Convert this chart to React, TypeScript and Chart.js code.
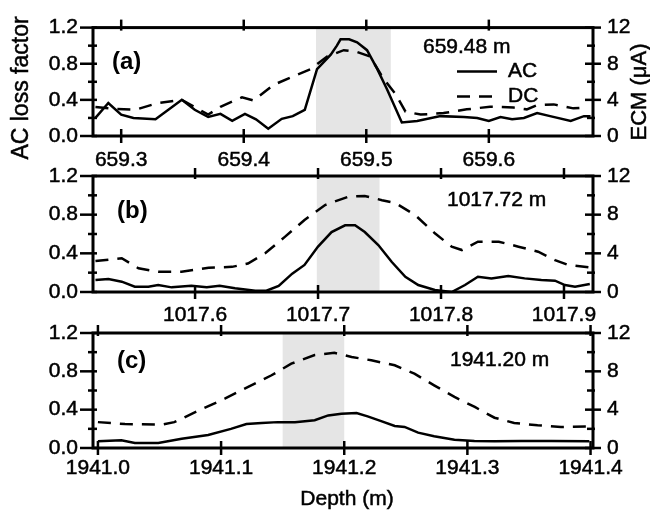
import React, { useEffect, useRef } from 'react';
import { Chart, registerables } from 'chart.js';

Chart.register(...registerables);

// ---------------- data ----------------
// Panel (a) 659.48 m
const aAcDepth = [659.279, 659.2895, 659.3, 659.31, 659.328, 659.3495, 659.36, 659.371, 659.381, 659.3906, 659.401, 659.41, 659.42, 659.431, 659.44, 659.4498, 659.4598, 659.471, 659.476, 659.479, 659.486, 659.4925, 659.5006, 659.509, 659.517, 659.529, 659.5415, 659.5606, 659.5796, 659.5905, 659.6, 659.6095, 659.619, 659.6286, 659.6394, 659.65, 659.6668, 659.6776, 659.683];
const aAcLoss = [0.2, 0.365, 0.237, 0.2, 0.185, 0.4, 0.29, 0.21, 0.245, 0.167, 0.245, 0.185, 0.08, 0.19, 0.22, 0.29, 0.74, 0.9, 1.0, 1.07, 1.07, 1.037, 0.95, 0.74, 0.515, 0.15, 0.167, 0.22, 0.21, 0.2, 0.167, 0.21, 0.185, 0.2, 0.254, 0.22, 0.167, 0.22, 0.22];
const aDcDepth = [659.279, 659.295, 659.3114, 659.33, 659.3495, 659.371, 659.381, 659.3986, 659.408, 659.4245, 659.442, 659.4545, 659.468, 659.4816, 659.4925, 659.503, 659.514, 659.524, 659.532, 659.5443, 659.563, 659.582, 659.601, 659.62, 659.631, 659.639, 659.653, 659.669, 659.6785];
const aDcEcm = [3.2, 3.0, 2.9, 3.65, 4.0, 2.37, 3.24, 4.28, 3.93, 5.67, 6.7, 7.4, 8.8, 9.5, 9.3, 8.8, 6.37, 4.63, 2.7, 2.37, 2.54, 2.95, 3.24, 3.16, 2.95, 3.4, 3.5, 3.06, 3.16];
const aXTicks = [659.3, 659.4, 659.5, 659.6];
const aRange = [659.277, 659.685];
const aShade = [659.459, 659.52];

// Panel (b) 1017.72 m
const bAcDepth = [1017.519, 1017.5295, 1017.5404, 1017.551, 1017.562, 1017.57, 1017.581, 1017.597, 1017.6095, 1017.62, 1017.6325, 1017.649, 1017.658, 1017.668, 1017.679, 1017.689, 1017.7, 1017.711, 1017.722, 1017.7301, 1017.738, 1017.749, 1017.76, 1017.771, 1017.7815, 1017.795, 1017.8087, 1017.8195, 1017.83, 1017.841, 1017.8547, 1017.868, 1017.8816, 1017.8927, 1017.9008, 1017.909, 1017.921];
const bAcLoss = [0.124, 0.134, 0.107, 0.055, 0.055, 0.072, 0.048, 0.065, 0.048, 0.065, 0.038, 0.013, 0.013, 0.062, 0.19, 0.28, 0.47, 0.62, 0.69, 0.69, 0.62, 0.486, 0.31, 0.158, 0.072, 0.02, 0.0, 0.072, 0.158, 0.141, 0.165, 0.141, 0.124, 0.117, 0.072, 0.055, 0.083];
const bDcDepth = [1017.519, 1017.5404, 1017.554, 1017.57, 1017.589, 1017.611, 1017.63, 1017.643, 1017.657, 1017.673, 1017.689, 1017.7057, 1017.7246, 1017.738, 1017.752, 1017.763, 1017.779, 1017.795, 1017.8087, 1017.817, 1017.83, 1017.847, 1017.863, 1017.879, 1017.8927, 1017.9035, 1017.92];
const bDcEcm = [3.2, 3.5, 2.45, 2.1, 2.1, 2.5, 2.6, 2.95, 4.0, 5.7, 7.45, 9.0, 9.86, 9.93, 9.5, 9.2, 7.96, 6.07, 4.69, 4.34, 5.2, 5.2, 4.69, 4.17, 3.3, 2.8, 2.55];
const bXTicks = [1017.6, 1017.7, 1017.8, 1017.9];
const bRange = [1017.517, 1017.9236];
const bShade = [1017.699, 1017.75];

// Panel (c) 1941.20 m
const cAcDepth = [1941.0, 1941.019, 1941.03, 1941.049, 1941.068, 1941.0895, 1941.108, 1941.1206, 1941.133, 1941.146, 1941.16, 1941.176, 1941.187, 1941.1977, 1941.21, 1941.219, 1941.23, 1941.241, 1941.249, 1941.26, 1941.273, 1941.2895, 1941.3057, 1941.322, 1941.3436, 1941.368, 1941.399];
const cAcLoss = [0.07, 0.08, 0.052, 0.052, 0.097, 0.136, 0.2, 0.25, 0.26, 0.27, 0.27, 0.29, 0.34, 0.358, 0.365, 0.33, 0.28, 0.23, 0.22, 0.16, 0.122, 0.087, 0.073, 0.07, 0.073, 0.073, 0.07];
const cDcDepth = [1941.0, 1941.022, 1941.052, 1941.062, 1941.081, 1941.103, 1941.122, 1941.141, 1941.157, 1941.176, 1941.192, 1941.206, 1941.222, 1941.241, 1941.257, 1941.273, 1941.2895, 1941.306, 1941.322, 1941.338, 1941.357, 1941.376, 1941.398];
const cDcEcm = [2.7, 2.5, 2.45, 2.7, 3.86, 5.15, 6.37, 7.59, 8.8, 9.7, 9.93, 9.5, 9.15, 8.63, 7.76, 6.54, 5.33, 4.28, 3.16, 2.61, 2.37, 2.19, 2.26];
const cXTicks = [1941.0, 1941.1, 1941.2, 1941.3, 1941.4];
const cRange = [1940.996, 1941.402];
const cShade = [1941.15, 1941.2];

// shared axes
const lossRange = [0, 1.2];
const lossMajor = [0, 0.4, 0.8, 1.2];
const lossMinor = [0.2, 0.6, 1.0];
const ecmRange = [0, 12];
const ecmMajor = [0, 4, 8, 12];
const ecmMinor = [2, 6, 10];

const seriesNames = ['AC', 'DC'];
const yTitle = 'AC loss factor';
const y2Title = 'ECM (\u03BCA)';
const xTitle = 'Depth (m)';

// ---------------- styling / layout ----------------
const W = 650;
const H = 510;
const FONT = '"Liberation Sans", Arial, Helvetica, sans-serif';
const SHADE = '#e5e5e5';
const INK = '#000';
const DASH = [13, 9];
const X_AXIS_H = 40;
const LEFT_W = 93;
const RIGHT_W = 57;
const TEXT_STROKE = 0.5;

type Panel = {
  key: string;
  acX: number[]; acY: number[]; dcX: number[]; dcY: number[];
  xTicks: number[]; range: number[]; shade: number[];
  top: number; bottom: number; xPad: number;
  tag: string; tagPos: [number, number];
  note: string; notePos: [number, number];
  legend: boolean; yTitles: boolean; xTitle: boolean;
};

const PANELS: Panel[] = [
  { key: 'a', acX: aAcDepth, acY: aAcLoss, dcX: aDcDepth, dcY: aDcEcm, xTicks: aXTicks, range: aRange, shade: aShade,
    top: 21, bottom: 136, xPad: 12, tag: '(a)', tagPos: [19, 35], note: '659.48 m', notePos: [330, 20], legend: true, yTitles: true, xTitle: false },
  { key: 'b', acX: bAcDepth, acY: bAcLoss, dcX: bDcDepth, dcY: bDcEcm, xTicks: bXTicks, range: bRange, shade: bShade,
    top: 176, bottom: 292, xPad: 11, tag: '(b)', tagPos: [24, 35], note: '1017.72 m', notePos: [354, 24], legend: false, yTitles: false, xTitle: false },
  { key: 'c', acX: cAcDepth, acY: cAcLoss, dcX: cDcDepth, dcY: cDcEcm, xTicks: cXTicks, range: cRange, shade: cShade,
    top: 333, bottom: 448, xPad: 8, tag: '(c)', tagPos: [24, 28], note: '1941.20 m', notePos: [357, 27], legend: false, yTitles: false, xTitle: true },
];

function zip(xs: number[], ys: number[]) {
  return xs.map((x, i) => ({ x, y: ys[i] }));
}

function heavyText(ctx: CanvasRenderingContext2D, s: string, x: number, y: number) {
  ctx.fillText(s, x, y);
  ctx.lineWidth = TEXT_STROKE;
  ctx.strokeStyle = INK;
  ctx.setLineDash([]);
  ctx.strokeText(s, x, y);
}

function decorPlugin(p: Panel) {
  return {
    id: 'decor_' + p.key,
    beforeDatasetsDraw(chart: any) {
      const { ctx, chartArea: ca, scales } = chart;
      const x0 = scales.x.getPixelForValue(p.shade[0]);
      const x1 = scales.x.getPixelForValue(p.shade[1]);
      ctx.save();
      ctx.fillStyle = SHADE;
      ctx.fillRect(x0, ca.top, x1 - x0, ca.bottom - ca.top);
      ctx.restore();
    },
    afterDatasetsDraw(chart: any) {
      const { ctx, chartArea: ca, scales } = chart;
      const line = (a: number, b: number, c: number, d: number) => {
        ctx.beginPath();
        ctx.moveTo(a, b);
        ctx.lineTo(c, d);
        ctx.stroke();
      };
      ctx.save();
      ctx.strokeStyle = INK;
      ctx.lineWidth = 2.5;
      ctx.setLineDash([]);
      for (const v of p.xTicks) {
        const px = scales.x.getPixelForValue(v);
        line(px, ca.top - 8, px, ca.top + 3);
        line(px, ca.bottom - 7, px, ca.bottom + 7);
      }
      for (const v of lossMajor) {
        const py = scales.y.getPixelForValue(v);
        line(ca.left - 13, py, ca.left + 4, py);
      }
      for (const v of lossMinor) {
        const py = scales.y.getPixelForValue(v);
        line(ca.left - 5, py, ca.left + 4, py);
      }
      for (const v of ecmMajor) {
        const py = scales.y1.getPixelForValue(v);
        line(ca.right - 8, py, ca.right + 8, py);
      }
      for (const v of ecmMinor) {
        const py = scales.y1.getPixelForValue(v);
        line(ca.right - 6, py, ca.right + 2, py);
      }
      ctx.lineWidth = 3;
      ctx.strokeRect(ca.left, ca.top, ca.right - ca.left, ca.bottom - ca.top);
      ctx.restore();
    },
    afterDraw(chart: any) {
      const { ctx, chartArea: ca } = chart;
      ctx.save();
      ctx.fillStyle = INK;
      ctx.textBaseline = 'middle';
      ctx.textAlign = 'left';
      ctx.font = 'bold 24px ' + FONT;
      ctx.fillText(p.tag, ca.left + p.tagPos[0], ca.top + p.tagPos[1]);
      ctx.font = '21px ' + FONT;
      heavyText(ctx, p.note, ca.left + p.notePos[0], ca.top + p.notePos[1]);
      if (p.legend) {
        const lx0 = ca.left + 364;
        const lx1 = ca.left + 404;
        const tx = ca.left + 415;
        const y0 = ca.top + 44;
        const y1 = ca.top + 69;
        ctx.strokeStyle = INK;
        ctx.lineWidth = 2.5;
        ctx.setLineDash([]);
        ctx.beginPath(); ctx.moveTo(lx0, y0); ctx.lineTo(lx1, y0); ctx.stroke();
        ctx.setLineDash(DASH);
        ctx.beginPath(); ctx.moveTo(lx0, y1); ctx.lineTo(lx1 + 2, y1); ctx.stroke();
        ctx.setLineDash([]);
        heavyText(ctx, seriesNames[0], tx, y0);
        heavyText(ctx, seriesNames[1], tx, y1);
      }
      ctx.textAlign = 'center';
      if (p.yTitles) {
        ctx.save();
        ctx.font = '23px ' + FONT;
        ctx.translate(22, 88);
        ctx.rotate(-Math.PI / 2);
        heavyText(ctx, yTitle, 0, 0);
        ctx.restore();
        ctx.save();
        ctx.font = '22px ' + FONT;
        ctx.translate(640, 92);
        ctx.rotate(-Math.PI / 2);
        heavyText(ctx, y2Title, 0, 0);
        ctx.restore();
      }
      if (p.xTitle) {
        ctx.font = '21px ' + FONT;
        heavyText(ctx, xTitle, 347, 499);
      }
      ctx.restore();
    },
  };
}

function buildConfig(p: Panel): any {
  const tickFont = { family: FONT, size: 21 };
  const tickStyle = { color: INK, font: tickFont, textStrokeColor: INK, textStrokeWidth: TEXT_STROKE };
  return {
    type: 'line',
    data: {
      datasets: [
        { label: seriesNames[0], data: zip(p.acX, p.acY), yAxisID: 'y', borderColor: INK, borderWidth: 2.5,
          pointRadius: 0, tension: 0, fill: false },
        { label: seriesNames[1], data: zip(p.dcX, p.dcY), yAxisID: 'y1', borderColor: INK, borderWidth: 2.5,
          borderDash: DASH, pointRadius: 0, tension: 0, fill: false },
      ],
    },
    options: {
      responsive: false,
      animation: false,
      devicePixelRatio: 1,
      events: [],
      layout: { padding: { top: p.top, bottom: H - p.bottom - X_AXIS_H, left: 0, right: 0 } },
      plugins: { legend: { display: false }, tooltip: { enabled: false }, title: { display: false } },
      scales: {
        x: {
          type: 'linear', position: 'bottom', min: p.range[0], max: p.range[1],
          afterFit: (s: any) => { s.height = X_AXIS_H; },
          afterBuildTicks: (s: any) => { s.ticks = p.xTicks.map((v) => ({ value: v })); },
          ticks: { autoSkip: false, maxRotation: 0, minRotation: 0, padding: p.xPad, ...tickStyle,
            callback: (v: number) => Number(v).toFixed(1) },
          grid: { display: false, drawTicks: false },
          border: { display: false },
        },
        y: {
          type: 'linear', position: 'left', min: lossRange[0], max: lossRange[1],
          afterFit: (s: any) => { s.width = LEFT_W; },
          afterBuildTicks: (s: any) => { s.ticks = lossMajor.map((v) => ({ value: v })); },
          ticks: { padding: 15, ...tickStyle, callback: (v: number) => Number(v).toFixed(1) },
          grid: { display: false, drawTicks: false },
          border: { display: false },
        },
        y1: {
          type: 'linear', position: 'right', min: ecmRange[0], max: ecmRange[1],
          afterFit: (s: any) => { s.width = RIGHT_W; },
          afterBuildTicks: (s: any) => { s.ticks = ecmMajor.map((v) => ({ value: v })); },
          ticks: { padding: 14, ...tickStyle, callback: (v: number) => String(Math.round(Number(v))) },
          grid: { display: false, drawTicks: false },
          border: { display: false },
        },
      },
    },
    plugins: [decorPlugin(p)],
  };
}

export default function App() {
  const r0 = useRef<HTMLCanvasElement>(null);
  const r1 = useRef<HTMLCanvasElement>(null);
  const r2 = useRef<HTMLCanvasElement>(null);
  const refs = [r0, r1, r2];
  useEffect(() => {
    const charts = PANELS.map((p, i) => new Chart(refs[i].current as HTMLCanvasElement, buildConfig(p)));
    return () => charts.forEach((c) => c.destroy());
  }, []);
  return (
    <div style={{ position: 'fixed', left: 0, top: 0, width: W, height: H, background: '#fff', overflow: 'hidden' }}>
      {PANELS.map((p, i) => (
        <canvas key={p.key} ref={refs[i]} width={W} height={H}
          style={{ position: 'absolute', left: 0, top: 0, width: W, height: H }} />
      ))}
    </div>
  );
}
